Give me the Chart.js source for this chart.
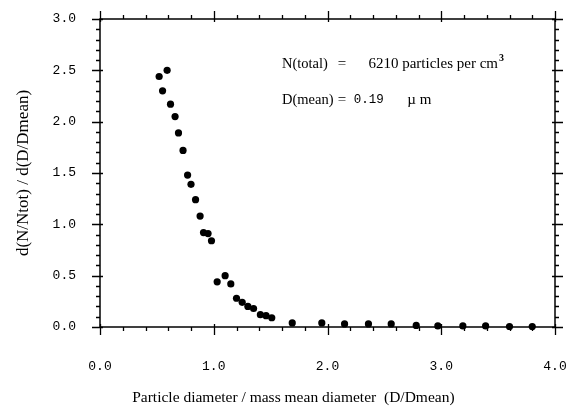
<!DOCTYPE html>
<html>
<head>
<meta charset="utf-8">
<script src="https://cdn.jsdelivr.net/npm/chart.js@4.4.1/dist/chart.umd.min.js"></script>
<style>
    html, body { margin: 0; padding: 0; background: #fff; }
</style>
</head>
<body>
<canvas id="dispersion" width="567" height="408"></canvas>
<script>
// Datos: diámetro relativo (D/Dmean) y d(N/Ntot)/d(D/Dmean)
var diametros = [0.52, 0.55, 0.59, 0.62, 0.66, 0.69, 0.73, 0.77, 0.80, 0.84,
                 0.88, 0.91, 0.95, 0.98, 1.03, 1.10, 1.15, 1.20, 1.25, 1.30,
                 1.35, 1.41, 1.46, 1.51, 1.69, 1.95, 2.15, 2.36, 2.56, 2.78,
                 2.97, 3.19, 3.39, 3.60, 3.80];
var valores = [2.44, 2.30, 2.50, 2.17, 2.05, 1.89, 1.72, 1.48, 1.39, 1.24,
               1.08, 0.92, 0.91, 0.84, 0.44, 0.50, 0.42, 0.28, 0.24, 0.20,
               0.18, 0.12, 0.11, 0.09, 0.04, 0.04, 0.03, 0.03, 0.03, 0.015,
               0.01, 0.01, 0.01, 0.005, 0.005];

// Marcas de los ejes (principales y secundarias)
var marcasX = [0, 1, 2, 3, 4];
var marcasY = [0, 0.5, 1, 1.5, 2, 2.5, 3];
var pasoMenorX = 0.2;
var pasoMenorY = 0.1;

// Textos de los ejes y de la anotación
var tituloX = "Particle diameter / mass mean diameter  (D/Dmean)";
var tituloY = "d(N/Ntot) / d(D/Dmean)";
var textoTotal = ["N(total)", "=", "6210 particles per cm", "3"];
var textoMedia = ["D(mean)", "=", "0.19", "µm"];

var fuenteSerif = "'Liberation Serif', 'Times New Roman', serif";
var fuenteMono = "'Liberation Mono', 'DejaVu Sans Mono', monospace";

/**
 * Plugin que dibuja el marco, las marcas de los cuatro lados,
 * el título del eje X y la anotación
 */
var marco = {
    id: "marco",
    afterDraw: function (chart) {
        var ctx = chart.ctx;
        var area = chart.chartArea;
        var x = chart.scales.x;
        var y = chart.scales.y;

        ctx.save();
        ctx.strokeStyle = "#000";
        ctx.lineWidth = 1.5;
        ctx.strokeRect(area.left, area.top, area.right - area.left, area.bottom - area.top);

        ctx.lineWidth = 1.3;
        ctx.beginPath();
        // marcas del eje X (abajo y arriba)
        for (var v = 0; v <= 4.0001; v += pasoMenorX) {
            var px = Math.round(x.getPixelForValue(v)) + 0.5;
            var mayor = Math.abs(v - Math.round(v)) < 0.001;
            var fuera = mayor ? 8 : 4;
            var dentro = mayor ? 3 : 0;
            ctx.moveTo(px, area.bottom - dentro);
            ctx.lineTo(px, area.bottom + fuera);
            ctx.moveTo(px, area.top + dentro);
            ctx.lineTo(px, area.top - fuera);
        }
        // marcas del eje Y (izquierda y derecha)
        for (var w = 0; w <= 3.0001; w += pasoMenorY) {
            var py = Math.round(y.getPixelForValue(w)) + 0.5;
            var may = Math.abs(w * 2 - Math.round(w * 2)) < 0.001;
            var fue = may ? 8 : 4;
            var den = may ? 3 : 0;
            ctx.moveTo(area.left + den, py);
            ctx.lineTo(area.left - fue, py);
            ctx.moveTo(area.right - den, py);
            ctx.lineTo(area.right + fue, py);
        }
        ctx.stroke();

        ctx.fillStyle = "#000";
        ctx.textBaseline = "middle";

        // Título del eje X, algo desplazado a la izquierda como en el original
        ctx.textAlign = "center";
        ctx.font = "15.5px " + fuenteSerif;
        ctx.fillText(tituloX, x.getPixelForValue(1.70), x.bottom - 10);

        // Anotación con el total de partículas y el diámetro medio
        ctx.textAlign = "left";
        var y1 = y.getPixelForValue(2.56);
        var y2 = y.getPixelForValue(2.21);
        ctx.font = "14.5px " + fuenteSerif;
        ctx.fillText(textoTotal[0], x.getPixelForValue(1.60), y1);
        ctx.fillText(textoMedia[0], x.getPixelForValue(1.60), y2);
        ctx.font = "15px " + fuenteSerif;
        ctx.fillText(textoTotal[1], x.getPixelForValue(2.09), y1);
        ctx.fillText(textoMedia[1], x.getPixelForValue(2.09), y2);
        var xTexto = x.getPixelForValue(2.36);
        ctx.fillText(textoTotal[2], xTexto, y1);
        var ancho = ctx.measureText(textoTotal[2]).width;
        ctx.letterSpacing = "4px";
        ctx.fillText(textoMedia[3], x.getPixelForValue(2.70), y2);
        ctx.letterSpacing = "0px";
        ctx.font = "bold 10px " + fuenteSerif;
        ctx.fillText(textoTotal[3], xTexto + ancho + 1, y1 - 6);
        ctx.font = "12.5px " + fuenteMono;
        ctx.fillText(textoMedia[2], x.getPixelForValue(2.23), y2);
        ctx.restore();
    }
};

/**
 * Función para generar el gráfico de dispersión
 */
function cargaGraficoDispersion() {
    var puntos = diametros.map(function (d, i) {
        return { x: d, y: valores[i] };
    });

    var datos = {
        datasets: [{
            label: tituloY,
            data: puntos,
            backgroundColor: "#000",
            borderColor: "#000",
            borderWidth: 0,
            pointRadius: 3.6,
            clip: false
        }]
    };

    // Las marcas de la librería se dejan transparentes: sólo sirven
    // para separar las etiquetas del eje
    var config = {
        type: "scatter",
        data: datos,
        plugins: [marco],
        options: {
            responsive: false,
            animation: false,
            layout: {
                padding: { top: 19, right: 12, left: 0, bottom: 0 }
            },
            plugins: {
                legend: { display: false },
                tooltip: { enabled: false }
            },
            scales: {
                x: {
                    type: "linear",
                    min: 0,
                    max: 4,
                    afterBuildTicks: function (escala) {
                        escala.ticks = marcasX.map(function (v) { return { value: v }; });
                    },
                    afterFit: function (escala) { escala.height = 81; },
                    ticks: {
                        callback: function (v) { return Number(v).toFixed(1); },
                        font: { family: fuenteMono, size: 13 },
                        color: "#000",
                        padding: 0,
                        maxRotation: 0,
                        autoSkip: false
                    },
                    grid: {
                        display: true,
                        drawOnChartArea: false,
                        drawTicks: true,
                        tickLength: 32,
                        tickColor: "rgba(0,0,0,0)"
                    },
                    border: { display: false }
                },
                y: {
                    type: "linear",
                    min: 0,
                    max: 3,
                    afterBuildTicks: function (escala) {
                        escala.ticks = marcasY.map(function (v) { return { value: v }; });
                    },
                    afterFit: function (escala) { escala.width = 100; },
                    ticks: {
                        callback: function (v) { return Number(v).toFixed(1); },
                        font: { family: fuenteMono, size: 13 },
                        color: "#000",
                        padding: 0,
                        autoSkip: false
                    },
                    grid: {
                        display: true,
                        drawOnChartArea: false,
                        drawTicks: true,
                        tickLength: 24,
                        tickColor: "rgba(0,0,0,0)"
                    },
                    border: { display: false },
                    title: {
                        display: true,
                        text: tituloY,
                        font: { family: fuenteSerif, size: 17 },
                        color: "#000",
                        padding: { top: 13, bottom: 0 }
                    }
                }
            }
        }
    };

    var grafico = document.getElementById("dispersion").getContext("2d");
    new Chart(grafico, config);
}

cargaGraficoDispersion();
</script>
</body>
</html>
